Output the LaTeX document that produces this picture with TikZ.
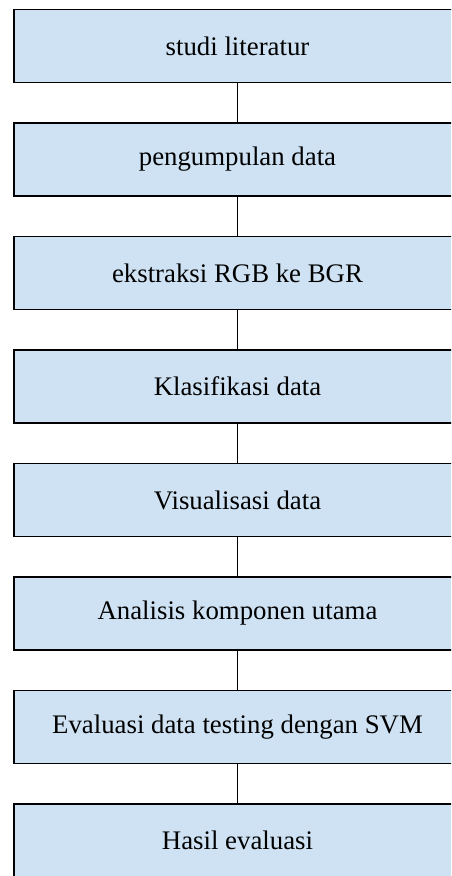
\documentclass[tikz,border=0pt]{standalone}
\usepackage{fontspec}
\setmainfont{Liberation Serif}
\usepackage{xcolor}
\usepackage{tikz}
\usetikzlibrary{positioning,calc}

\definecolor{boxblue}{RGB}{207,226,243}

\begin{document}
\begin{tikzpicture}[
    x=0.5pt, y=-0.5pt,
    stage/.style={draw, line width=0.7pt, fill=boxblue, minimum width=223.5pt, minimum height=36.5pt, inner sep=0pt, align=center, font=\fontsize{13.4}{15}\selectfont},
    link/.style={line width=0.7pt}
]
    \path[use as bounding box, clip] (0,0) rectangle (451,876);

    \node[stage] (study) at (237.5,46) {studi literatur};
    \node[stage] (collect) at (237.5,159.5) {pengumpulan data};
    \node[stage] (extract) at (237.5,273) {ekstraksi RGB ke BGR};
    \node[stage] (classify) at (237.5,386.5) {Klasifikasi data};
    \node[stage] (visual) at (237.5,500) {Visualisasi data};
    \node[stage] (pca) at (237.5,613.5) {Analisis komponen utama};
    \node[stage] (evalsvm) at (237.5,727) {Evaluasi data testing dengan SVM};
    \node[stage] (result) at (237.5,840.5) {Hasil evaluasi};

    % plain connectors between the stages
    \draw[link] (study) -- (collect);
    \draw[link] (collect) -- (extract);
    \draw[link] (extract) -- (classify);
    \draw[link] (classify) -- (visual);
    \draw[link] (visual) -- (pca);
    \draw[link] (pca) -- (evalsvm);
    \draw[link] (evalsvm) -- (result);
\end{tikzpicture}
\end{document}
